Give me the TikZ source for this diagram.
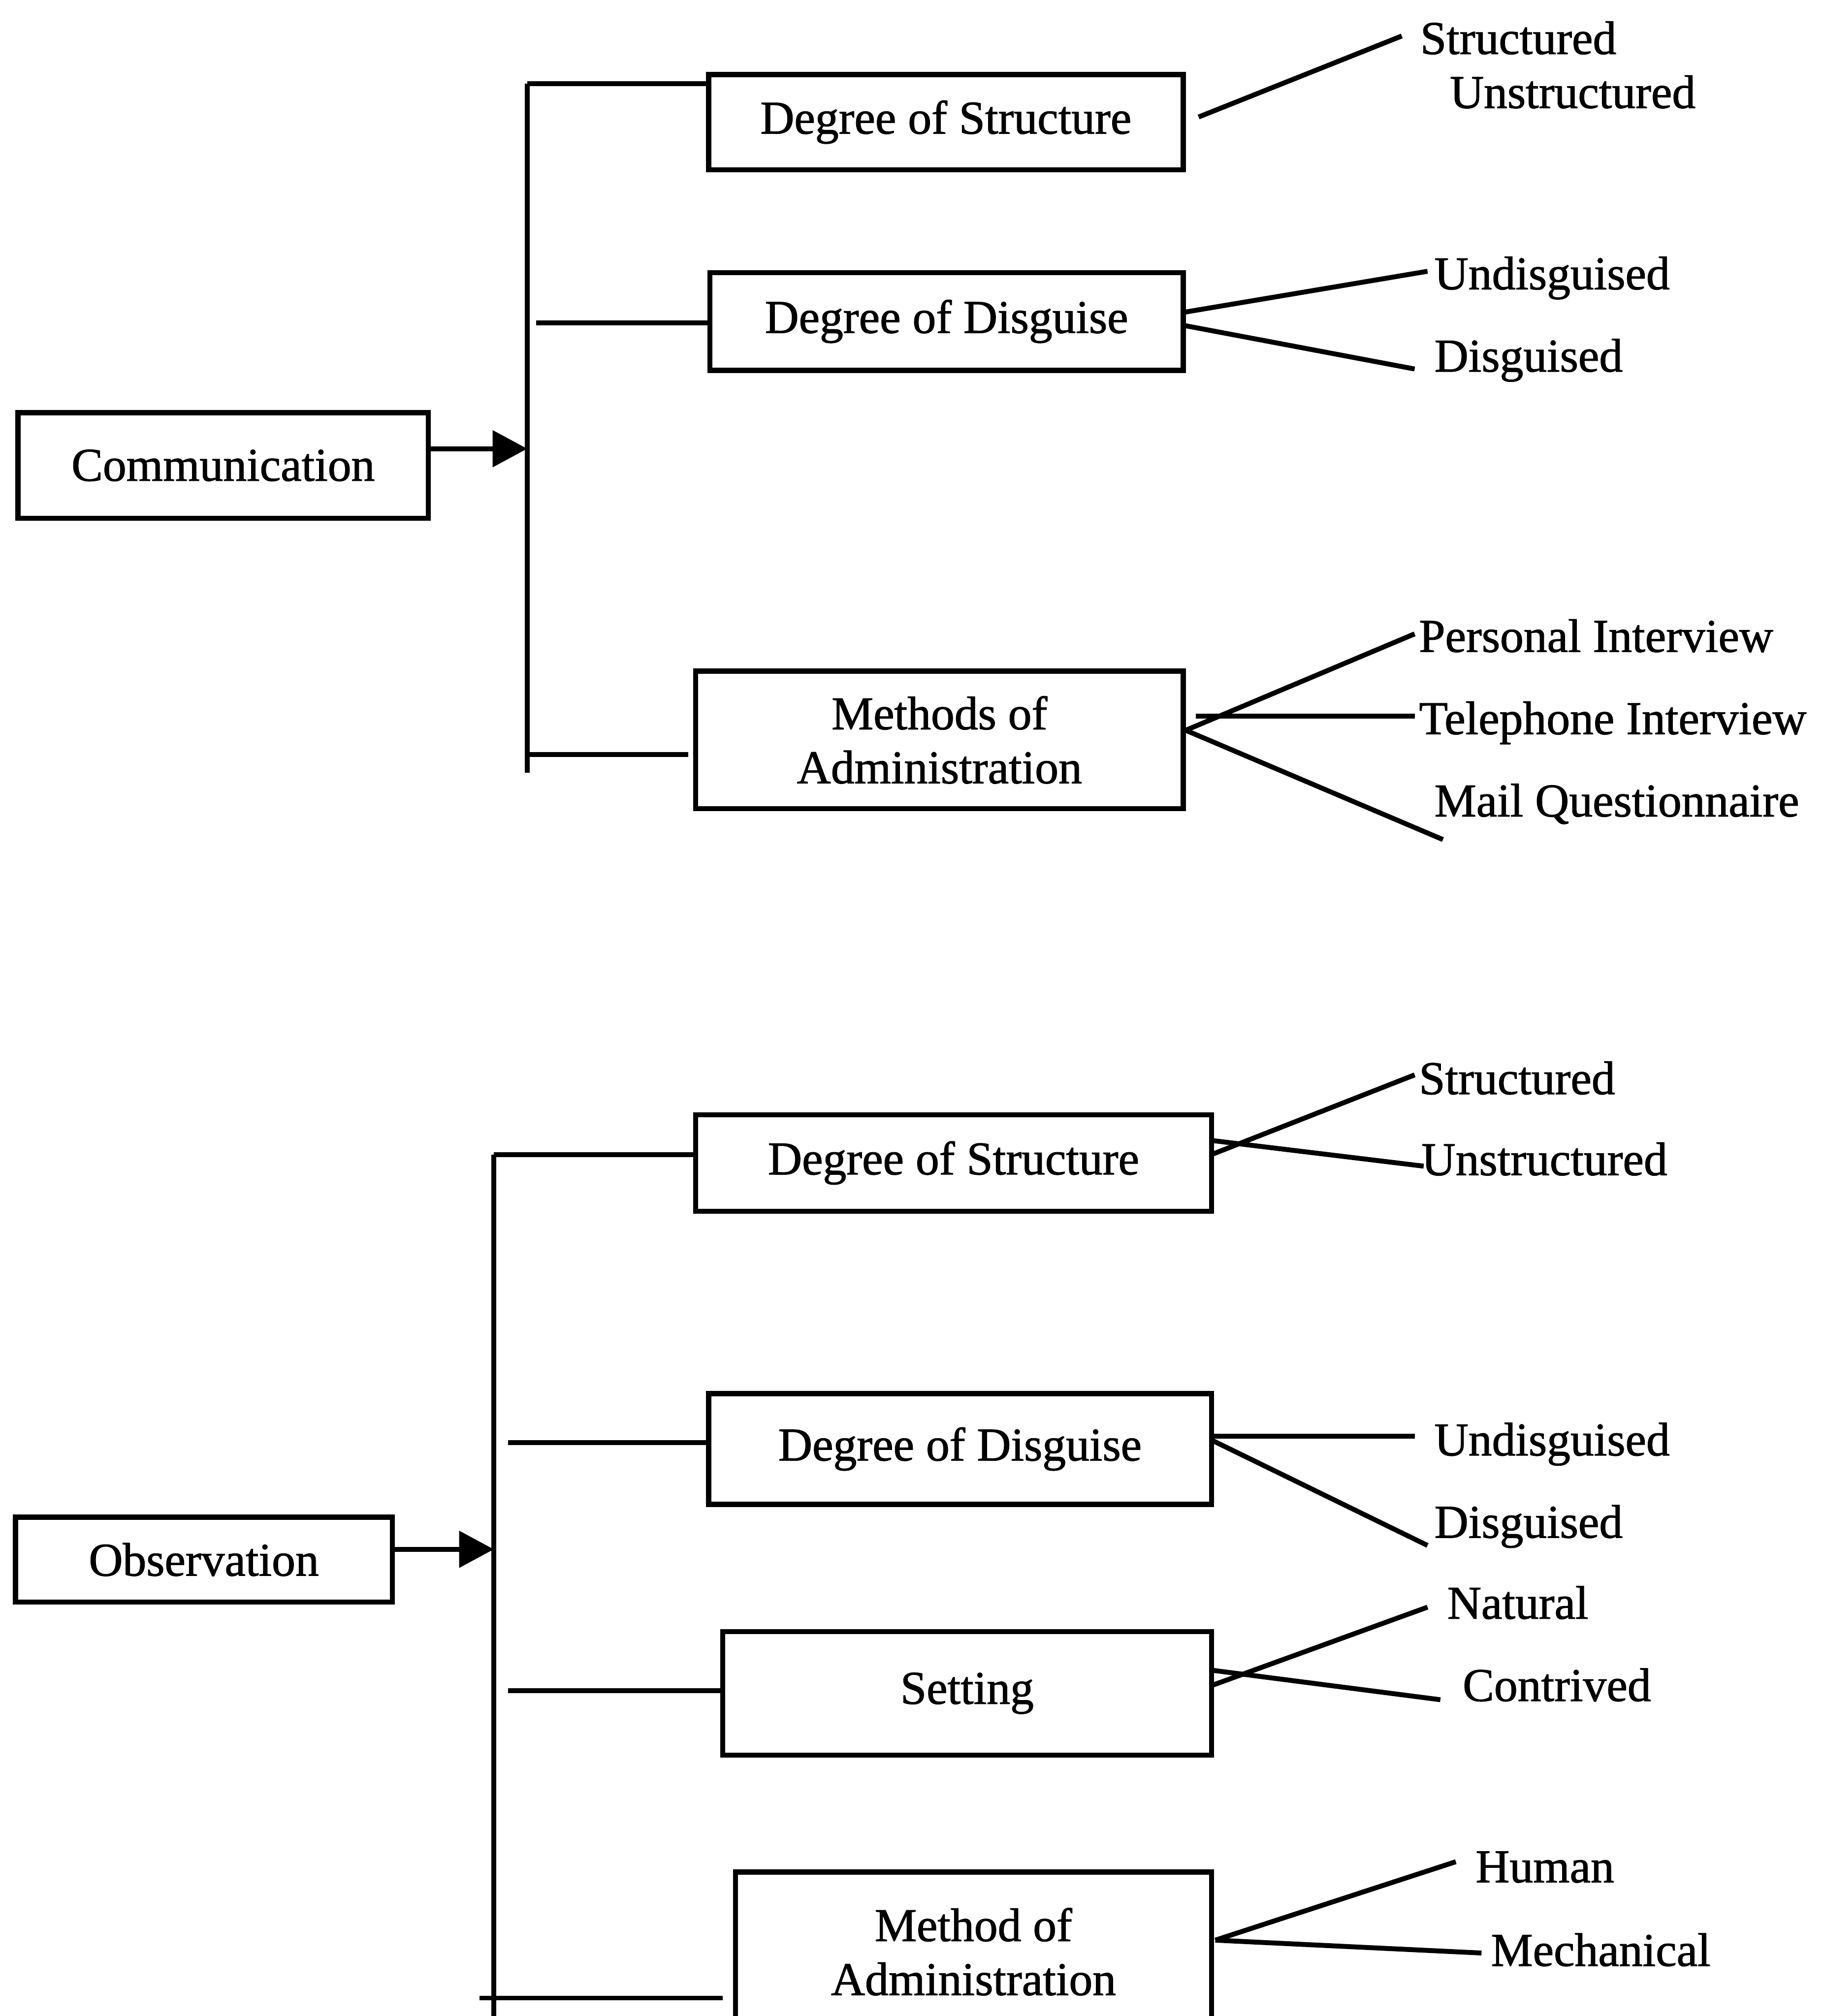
\documentclass[tikz,border=0pt]{standalone}
\usepackage{fontspec}
\setmainfont{Liberation Serif}[BoldFont={Liberation Serif},BoldFeatures={FakeBold=1.2}]
\usetikzlibrary{arrows.meta}
\begin{document}
\begin{tikzpicture}[x=0.5pt,y=-0.5pt,
  txt/.style={font=\fontsize{18.3}{21}\selectfont\bfseries},
  box/.style={txt,draw,line width=2pt,inner sep=0pt,align=center},
  lbl/.style={txt,anchor=base west,inner sep=0pt},
  wire/.style={line width=1.9pt},
  feed/.style={wire,-{Triangle[length=13.5pt,width=14pt]}}]
\useasboundingbox (0,0) rectangle (1418,1568);

% ---------------- Communication ----------------
\node[box,minimum width=159.5pt,minimum height=41pt] (comm) at (173.5,362) {Communication};
\node[box,minimum width=184.5pt,minimum height=37pt] (ts) at (735.5,95) {Degree of Structure};
\node[box,minimum width=184pt,minimum height=38pt] (td) at (736,250) {Degree of Disguise};
\node[box,minimum width=189.5pt,minimum height=53.5pt] (tm) at (730.5,575.5) {Methods of\\Administration};

\coordinate (ctip) at (410,349);
\coordinate (ctop) at (410,65);
\coordinate (cbot) at (410,601);
\coordinate (cmid) at (417,251);
\coordinate (clow) at (410,587);
\coordinate (clowend) at (535,587);

\draw[feed] (comm.east |- ctip) -- (ctip);
\draw[wire] (ctop) -- (cbot);
\draw[wire] (ctop) -- (ts.west |- ctop);
\draw[wire] (cmid) -- (td.west |- cmid);
\draw[wire] (clow) -- (clowend);

\node[lbl] (t1) at (1104,42) {Structured};
\node[lbl] (t2) at (1127,84) {Unstructured};
\node[lbl] (t3) at (1115,225) {Undisguised};
\node[lbl] (t4) at (1115,289) {Disguised};
\node[lbl] (t5) at (1103,507) {Personal Interview};
\node[lbl] (t6) at (1103,571) {Telephone Interview};
\node[lbl] (t7) at (1115,635) {Mail Questionnaire};

\coordinate (tsr) at (932,91);   \coordinate (e1) at (1090,28);
\coordinate (tdr1) at (920,243); \coordinate (e3) at (1110,211);
\coordinate (tdr2) at (920,253); \coordinate (e4) at (1100,287);
\coordinate (tmr1) at (922,568); \coordinate (e5) at (1100,493);
\coordinate (tmr2) at (930,557); \coordinate (e6) at (1100,557);
\coordinate (e7) at (1122,653);

\draw[wire] (tsr) -- (e1);
\draw[wire] (tdr1) -- (e3);
\draw[wire] (tdr2) -- (e4);
\draw[wire] (tmr1) -- (e5);
\draw[wire] (tmr2) -- (e6);
\draw[wire] (tmr1) -- (e7);

% ---------------- Observation ----------------
\node[box,minimum width=146.5pt,minimum height=33pt] (obs) at (158.5,1213) {Observation};
\node[box,minimum width=200.5pt,minimum height=37.5pt] (bs) at (741.5,904.5) {Degree of Structure};
\node[box,minimum width=195.5pt,minimum height=43pt] (bd) at (746.5,1127) {Degree of Disguise};
\node[box,minimum width=190pt,minimum height=48pt] (bset) at (752,1317) {Setting};
\node[box,minimum width=185pt,minimum height=62pt] (bm) at (757,1518) {Method of\\Administration};

\coordinate (otip) at (384,1205);
\coordinate (otop) at (384,898);
\coordinate (obot) at (384,1580);
\coordinate (o2) at (395,1122);
\coordinate (o3) at (395,1315);
\coordinate (o4) at (373,1554);
\coordinate (o4end) at (562,1554);

\draw[feed] (obs.east |- otip) -- (otip);
\draw[wire] (otop) -- (obot);
\draw[wire] (otop) -- (bs.west |- otop);
\draw[wire] (o2) -- (bd.west |- o2);
\draw[wire] (o3) -- (bset.west |- o3);
\draw[wire] (o4) -- (o4end);

\node[lbl] (b1) at (1103,851) {Structured};
\node[lbl] (b2) at (1105,914) {Unstructured};
\node[lbl] (b3) at (1115,1132) {Undisguised};
\node[lbl] (b4) at (1115,1196) {Disguised};
\node[lbl] (b5) at (1125,1259) {Natural};
\node[lbl] (b6) at (1137,1323) {Contrived};
\node[lbl] (b7) at (1147,1464) {Human};
\node[lbl] (b8) at (1159,1529) {Mechanical};

\coordinate (bsr1) at (942,898);  \coordinate (f1) at (1100,836);
\coordinate (bsr2) at (942,887);  \coordinate (f2) at (1107,907);
\coordinate (bdr1) at (942,1117); \coordinate (f3) at (1100,1117);
\coordinate (bdr2) at (942,1120); \coordinate (f4) at (1110,1202);
\coordinate (bsetr1) at (942,1311); \coordinate (f5) at (1110,1250);
\coordinate (bsetr2) at (942,1299); \coordinate (f6) at (1120,1322);
\coordinate (bmr) at (945,1509);  \coordinate (f7) at (1132,1448);
\coordinate (f8) at (1152,1519);

\draw[wire] (bsr1) -- (f1);
\draw[wire] (bsr2) -- (f2);
\draw[wire] (bdr1) -- (f3);
\draw[wire] (bdr2) -- (f4);
\draw[wire] (bsetr1) -- (f5);
\draw[wire] (bsetr2) -- (f6);
\draw[wire] (bmr) -- (f7);
\draw[wire] (bmr) -- (f8);
\end{tikzpicture}
\end{document}
